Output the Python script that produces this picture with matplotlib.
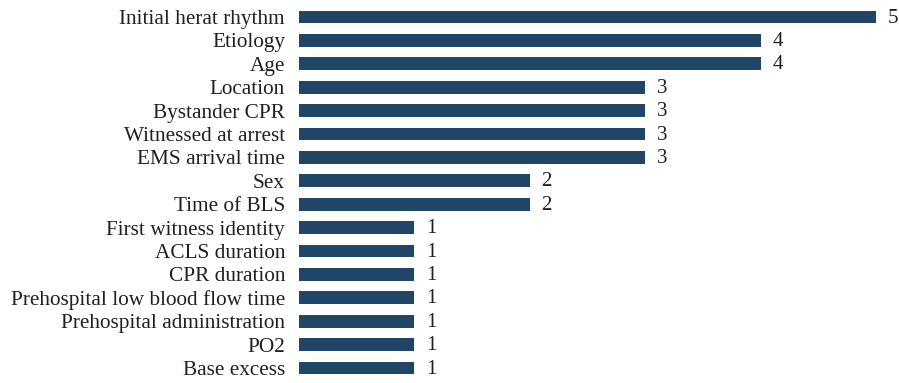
import matplotlib.pyplot as plt

labels = ["Initial herat rhythm", "Etiology", "Age", "Location", "Bystander CPR",
          "Witnessed at arrest", "EMS arrival time", "Sex", "Time of BLS",
          "First witness identity", "ACLS duration", "CPR duration",
          "Prehospital low blood flow time", "Prehospital administration",
          "PO2", "Base excess"]
values = [5, 4, 4, 3, 3, 3, 3, 2, 2, 1, 1, 1, 1, 1, 1, 1]

plt.rcParams['font.family'] = ['Liberation Serif', 'DejaVu Serif']

fig = plt.figure(figsize=(8.99, 3.83), dpi=100)
ax = fig.add_axes([299 / 899, 3.3 / 383, 577 / 899, 374.4 / 383])

pos = list(range(len(labels)))
ax.barh(pos, values, height=0.54, color="#204566")
for y, v in zip(pos, values):
    ax.text(v + 0.1, y + 0.05, str(v), va="center", ha="left", fontsize=15, color="#231f20")

ax.set_xlim(0, 5)
ax.set_ylim(len(labels) - 0.5, -0.5)
ax.set_yticks(pos)
ax.set_yticklabels(labels, fontsize=15.3, color="#231f20")
ax.tick_params(axis="y", length=0, pad=10)
ax.set_xticks([])
for s in ax.spines.values():
    s.set_visible(False)

fig.savefig("out.png", dpi=100)
